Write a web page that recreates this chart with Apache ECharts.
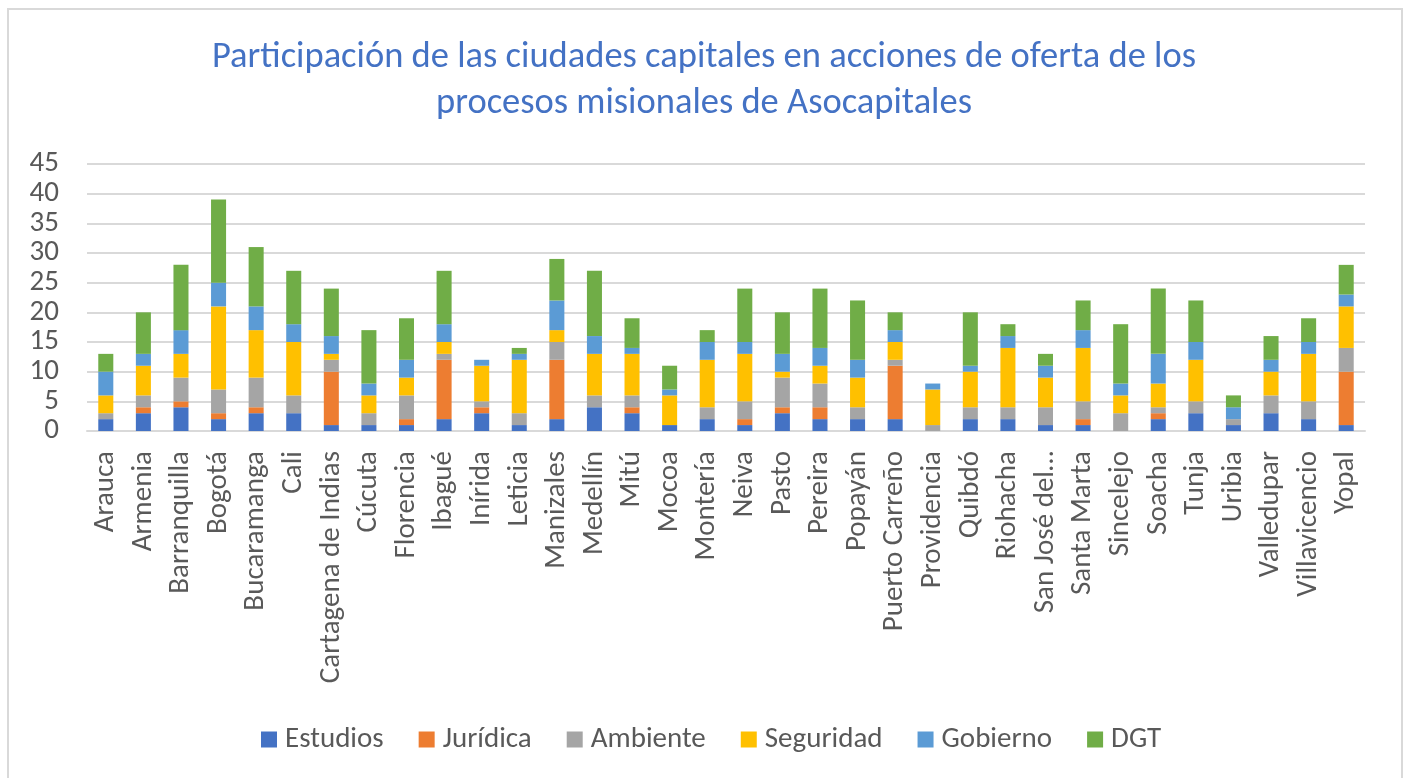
<!DOCTYPE html>
<html>
<head>
<meta charset="utf-8">
<script src="https://cdn.jsdelivr.net/npm/echarts@6/dist/echarts.min.js"></script>
<style>
  html, body { margin: 0; padding: 0; background: #fff; }
  #chart { width: 1408px; height: 778px; }
</style>
</head>
<body>
<div id="chart"></div>
<script>
  var cities = ['Arauca', 'Armenia', 'Barranquilla', 'Bogotá', 'Bucaramanga', 'Cali',
    'Cartagena de Indias', 'Cúcuta', 'Florencia', 'Ibagué', 'Inírida', 'Leticia',
    'Manizales', 'Medellín', 'Mitú', 'Mocoa', 'Montería', 'Neiva', 'Pasto', 'Pereira',
    'Popayán', 'Puerto Carreño', 'Providencia', 'Quibdó', 'Riohacha', 'San José del…',
    'Santa Marta', 'Sincelejo', 'Soacha', 'Tunja', 'Uribia', 'Valledupar',
    'Villavicencio', 'Yopal'];

  var estudios  = [2, 3, 4, 2, 3, 3, 1, 1, 1, 2, 3, 1, 2, 4, 3, 1, 2, 1, 3, 2, 2, 2, 0, 2, 2, 1, 1, 0, 2, 3, 1, 3, 2, 1];
  var juridica  = [0, 1, 1, 1, 1, 0, 9, 0, 1, 10, 1, 0, 10, 0, 1, 0, 0, 1, 1, 2, 0, 9, 0, 0, 0, 0, 1, 0, 1, 0, 0, 0, 0, 9];
  var ambiente  = [1, 2, 4, 4, 5, 3, 2, 2, 4, 1, 1, 2, 3, 2, 2, 0, 2, 3, 5, 4, 2, 1, 1, 2, 2, 3, 3, 3, 1, 2, 1, 3, 3, 4];
  var seguridad = [3, 5, 4, 14, 8, 9, 1, 3, 3, 2, 6, 9, 2, 7, 7, 5, 8, 8, 1, 3, 5, 3, 6, 6, 10, 5, 9, 3, 4, 7, 0, 4, 8, 7];
  var gobierno  = [4, 2, 4, 4, 4, 3, 3, 2, 3, 3, 1, 1, 5, 3, 1, 1, 3, 2, 3, 3, 3, 2, 1, 1, 2, 2, 3, 2, 5, 3, 2, 2, 2, 2];
  var dgt       = [3, 7, 11, 14, 10, 9, 8, 9, 7, 9, 0, 1, 7, 11, 5, 4, 2, 9, 7, 10, 10, 3, 0, 9, 2, 2, 5, 10, 11, 7, 2, 4, 4, 5];

  var font = 'Carlito, Lato, sans-serif';

  function bar(name, data, color) {
      return {
          name: name,
          type: 'bar',
          stack: 'total',
          barWidth: '40%',
          data: data,
          itemStyle: { color: color }
      };
  }

  var myChart = echarts.init(document.getElementById('chart'));
  myChart.setOption({
      animation: false,
      backgroundColor: '#fff',
      textStyle: { fontFamily: font },
      graphic: [{
          type: 'rect',
          shape: { x: 8, y: 9, width: 1394, height: 800 },
          style: { fill: 'none', stroke: '#d9d9d9', lineWidth: 2 },
          silent: true
      }],
      title: {
          text: 'Participación de las ciudades capitales en acciones de oferta de los\nprocesos misionales de Asocapitales',
          left: 'center',
          top: 30,
          textStyle: {
              color: '#4472c4',
              fontFamily: font,
              fontWeight: 'normal',
              fontSize: 36.5,
              lineHeight: 46
          }
      },
      legend: {
          left: 261,
          top: 725,
          padding: 0,
          itemWidth: 16,
          itemHeight: 16,
          itemGap: 35,
          icon: 'rect',
          textStyle: { color: '#595959', fontSize: 29, fontFamily: font, padding: [0, 0, 0, 3] },
          data: ['Estudios', 'Jurídica', 'Ambiente', 'Seguridad', 'Gobierno', 'DGT']
      },
      grid: { left: 87, right: 43, top: 164, bottom: 347, containLabel: false },
      xAxis: {
          type: 'category',
          data: cities,
          axisLine: { lineStyle: { color: '#d9d9d9', width: 2 } },
          axisTick: { show: false },
          axisLabel: {
              rotate: 90,
              interval: 0,
              margin: 20,
              color: '#595959',
              fontSize: 29,
              fontFamily: font
          }
      },
      yAxis: {
          type: 'value',
          min: 0,
          max: 45,
          interval: 5,
          axisLine: { show: false },
          axisTick: { show: false },
          splitLine: { lineStyle: { color: '#d9d9d9', width: 2 } },
          axisLabel: { color: '#595959', fontSize: 29, fontFamily: font, margin: 28 }
      },
      series: [
          bar('Estudios', estudios, '#4472c4'),
          bar('Jurídica', juridica, '#ed7d31'),
          bar('Ambiente', ambiente, '#a5a5a5'),
          bar('Seguridad', seguridad, '#ffc000'),
          bar('Gobierno', gobierno, '#5b9bd5'),
          bar('DGT', dgt, '#70ad47')
      ]
  });
</script>
</body>
</html>
